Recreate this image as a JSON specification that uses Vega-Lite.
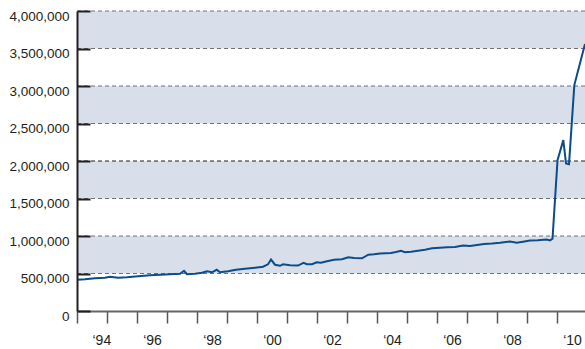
{
  "$schema": "https://vega.github.io/schema/vega-lite/v6.json",
  "width": 508,
  "height": 300,
  "autosize": {"type": "none"},
  "padding": {"left": 77, "top": 11, "right": 0, "bottom": 38},
  "background": "white",
  "config": {"view": {"stroke": null}},
  "datasets": {
    "bands": [
      {"v": 500000, "v2": 1000000},
      {"v": 1500000, "v2": 2000000},
      {"v": 2500000, "v2": 3000000},
      {"v": 3500000, "v2": 4000000}
    ],
    "grid": [
      {"v": 500000}, {"v": 1000000}, {"v": 1500000}, {"v": 2000000},
      {"v": 2500000}, {"v": 3000000}, {"v": 3500000}, {"v": 4000000}
    ],
    "series": [
      {"t": 1994.000, "v": 416000}, {"t": 1994.267, "v": 423000}, {"t": 1994.600, "v": 436000},
      {"t": 1994.933, "v": 443000}, {"t": 1995.100, "v": 456000}, {"t": 1995.367, "v": 443000},
      {"t": 1995.667, "v": 450000}, {"t": 1996.033, "v": 463000}, {"t": 1996.433, "v": 476000},
      {"t": 1996.767, "v": 483000}, {"t": 1997.100, "v": 490000}, {"t": 1997.433, "v": 496000},
      {"t": 1997.567, "v": 536000}, {"t": 1997.667, "v": 490000}, {"t": 1997.933, "v": 496000},
      {"t": 1998.167, "v": 510000}, {"t": 1998.333, "v": 530000}, {"t": 1998.500, "v": 516000},
      {"t": 1998.657, "v": 550000}, {"t": 1998.767, "v": 516000}, {"t": 1999.033, "v": 530000},
      {"t": 1999.300, "v": 550000}, {"t": 1999.600, "v": 563000}, {"t": 1999.933, "v": 577000},
      {"t": 2000.200, "v": 590000}, {"t": 2000.367, "v": 623000}, {"t": 2000.467, "v": 686000},
      {"t": 2000.600, "v": 617000}, {"t": 2000.767, "v": 603000}, {"t": 2000.867, "v": 623000},
      {"t": 2001.100, "v": 610000}, {"t": 2001.367, "v": 606000}, {"t": 2001.550, "v": 641000},
      {"t": 2001.667, "v": 623000}, {"t": 2001.833, "v": 623000}, {"t": 2001.990, "v": 650000},
      {"t": 2002.133, "v": 643000}, {"t": 2002.333, "v": 663000}, {"t": 2002.567, "v": 683000},
      {"t": 2002.833, "v": 690000}, {"t": 2003.043, "v": 717000}, {"t": 2003.233, "v": 706000},
      {"t": 2003.500, "v": 703000}, {"t": 2003.710, "v": 750000}, {"t": 2003.900, "v": 757000},
      {"t": 2004.100, "v": 767000}, {"t": 2004.467, "v": 774000}, {"t": 2004.633, "v": 786000},
      {"t": 2004.800, "v": 802000}, {"t": 2004.933, "v": 783000}, {"t": 2005.133, "v": 790000},
      {"t": 2005.367, "v": 803000}, {"t": 2005.600, "v": 817000}, {"t": 2005.833, "v": 837000},
      {"t": 2006.100, "v": 843000}, {"t": 2006.333, "v": 850000}, {"t": 2006.600, "v": 853000},
      {"t": 2006.867, "v": 873000}, {"t": 2007.100, "v": 866000}, {"t": 2007.333, "v": 880000},
      {"t": 2007.567, "v": 894000}, {"t": 2007.833, "v": 900000}, {"t": 2008.100, "v": 910000},
      {"t": 2008.433, "v": 926000}, {"t": 2008.657, "v": 910000}, {"t": 2008.867, "v": 924000},
      {"t": 2009.100, "v": 940000}, {"t": 2009.367, "v": 944000}, {"t": 2009.657, "v": 953000},
      {"t": 2009.767, "v": 941000}, {"t": 2009.850, "v": 964000}, {"t": 2010.017, "v": 2011000},
      {"t": 2010.210, "v": 2278000}, {"t": 2010.300, "v": 1967000}, {"t": 2010.400, "v": 1958000},
      {"t": 2010.577, "v": 3012000}, {"t": 2010.933, "v": 3559000}
    ]
  },
  "layer": [
    {
      "data": {"name": "bands"},
      "mark": {"type": "rect", "fill": "#d9dfea"},
      "encoding": {
        "y": {"field": "v", "type": "quantitative", "scale": {"domain": [0, 4000000], "nice": false}},
        "y2": {"field": "v2"}
      }
    },
    {
      "data": {"name": "grid"},
      "mark": {"type": "rule", "strokeDash": [4, 3], "strokeWidth": 1},
      "encoding": {
        "y": {"field": "v", "type": "quantitative"},
        "color": {"condition": {"test": "datum.v == 2000000", "value": "#1e1e1e"}, "value": "#717171"}
      }
    },
    {
      "data": {"name": "series"},
      "mark": {"type": "line", "color": "#0b4c8a", "strokeWidth": 2, "clip": true},
      "encoding": {
        "x": {
          "field": "t", "type": "quantitative",
          "scale": {"domain": [1994, 2010.933], "nice": false, "zero": false},
          "axis": {
            "title": null,
            "values": [1994, 1995, 1996, 1997, 1998, 1999, 2000, 2001, 2002, 2003, 2004, 2005, 2006, 2007, 2008, 2009, 2010],
            "tickCount": 40,
            "labelExpr": "datum.value % 2 == 0 ? '‘' + substring(toString(datum.value), 2, 4) : ''",
            "labelOverlap": false,
            "labelOffset": 15,
            "labelPadding": 10,
            "labelFont": "Liberation Sans",
            "labelFontSize": 14,
            "labelColor": "#231f20",
            "labelBaseline": "top",
            "tickSize": 12,
            "tickColor": "#555555",
            "tickWidth": 1.5,
            "domainColor": "#666666",
            "domainWidth": 2,
            "grid": false,
            "zindex": 1
          }
        },
        "y": {
          "field": "v", "type": "quantitative",
          "axis": {
            "title": null,
            "values": [0, 500000, 1000000, 1500000, 2000000, 2500000, 3000000, 3500000, 4000000],
            "tickCount": 20,
            "format": ",d",
            "labelOverlap": false,
            "labelFont": "Liberation Sans",
            "labelFontSize": 13.5,
            "labelColor": "#231f20",
            "labelBaseline": "alphabetic",
            "labelOffset": 9,
            "labelPadding": 21,
            "tickSize": -13,
            "tickWidth": 2,
            "tickColor": "#231f20",
            "domainColor": "#231f20",
            "domainWidth": 2,
            "grid": false,
            "zindex": 1
          }
        }
      }
    }
  ]
}
